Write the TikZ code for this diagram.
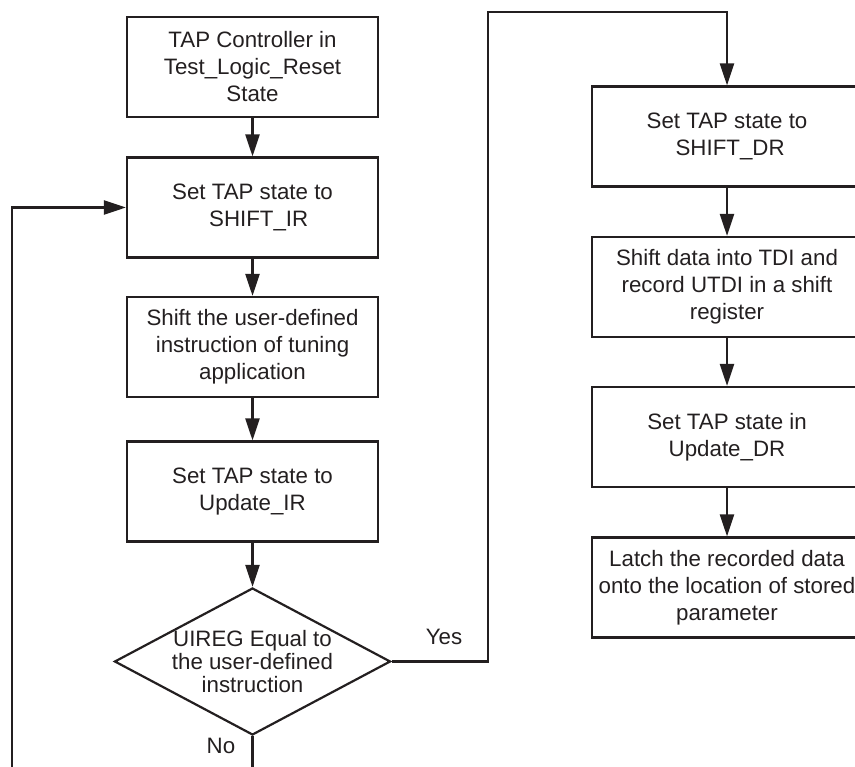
\documentclass[tikz,border=0pt]{standalone}
\usepackage{fontspec}
\setmainfont{Liberation Sans}
\usepackage{tikz}
\usetikzlibrary{arrows.meta, positioning, calc, shapes.geometric}
\definecolor{ink}{HTML}{231F20}
\tikzset{
  stepbox/.style={draw=ink, line width=2.2pt, rectangle, minimum height=100pt,
                  inner sep=0pt, align=center, text=ink},
  leftbox/.style={stepbox, minimum width=251pt},
  rightbox/.style={stepbox, minimum width=270pt},
  decision/.style={draw=ink, line width=2.2pt, diamond, inner sep=0pt,
                   minimum width=276pt, minimum height=147pt},
  arr/.style={draw=ink, line width=2.2pt, -{Triangle[length=22pt, width=14pt]}},
  lbl/.style={text=ink, inner sep=0pt}
}
\begin{document}
\begin{tikzpicture}[x=1pt, y=-1pt, >=Stealth,
  every node/.append style={font=\fontsize{22.3}{27}\selectfont}]
  \useasboundingbox (0,0) rectangle (855,767);
  \clip (0,0) rectangle (855,767);
  % left column
  \node[leftbox] (reset)   at (252.5,67)    {TAP Controller in\\Test\_Logic\_Reset\\State};
  \node[leftbox] (shiftir) at (252.5,207.5) {Set TAP state to\\~~SHIFT\_IR};
  \node[leftbox] (instr)   at (252.5,347)   {Shift the user-defined\\instruction of tuning\\application};
  \node[leftbox] (updir)   at (252.5,491.5) {Set TAP state to\\Update\_IR};
  % decision
  \node[decision] (uireg) at (252.5,661.5) {};
  \node[lbl, align=center, font=\fontsize{22.3}{23}\selectfont] (uiregtxt) at (uireg.center)
    {UIREG Equal to\\the user-defined\\instruction};
  % right column
  \node[rightbox] (shiftdr) at (727,136.5) {Set TAP state to\\~SHIFT\_DR};
  \node[rightbox] (record)  at (727,287)   {Shift data into TDI and\\record UTDI in a shift\\register};
  \node[rightbox] (upddr)   at (727,437)   {Set TAP state in\\Update\_DR};
  \node[rightbox] (latch)   at (727,587.5) {Latch the recorded data\\onto the location of stored\\parameter};
  % straight flow
  \draw[arr] (reset) -- (shiftir);
  \draw[arr] (shiftir) -- (instr);
  \draw[arr] (instr) -- (updir);
  \draw[arr] (updir) -- (uireg);
  \draw[arr] (shiftdr) -- (record);
  \draw[arr] (record) -- (upddr);
  \draw[arr] (upddr) -- (latch);
  % yes branch
  \coordinate (yesup) at (488,12);
  \draw[arr] (uireg.east) -| (yesup) -| (shiftdr.north);
  \node[lbl] (yes) at (444,637) {Yes};
  % no branch, back to SHIFT_IR
  \coordinate (nobot) at (12,800);
  \draw[arr] (uireg.south) |- (nobot) |- (shiftir.west);
  \node[lbl] (no) at (221,746) {No};
\end{tikzpicture}
\end{document}
